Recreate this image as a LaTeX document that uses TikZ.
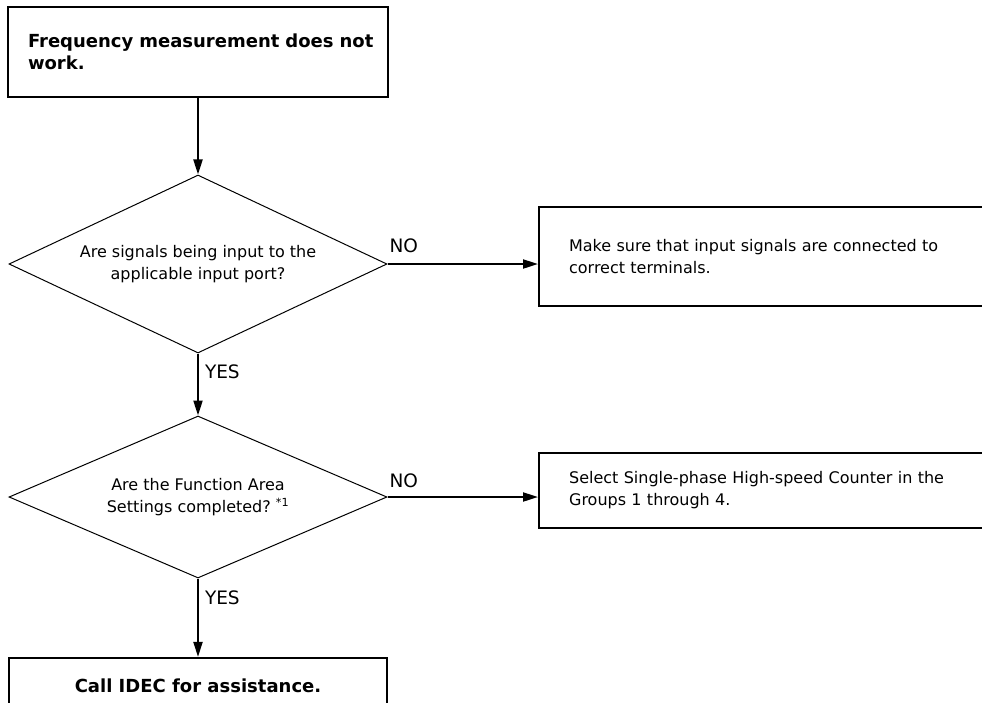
\documentclass[tikz,border=0pt]{standalone}
\usepackage{fontspec}
\setmainfont{DejaVu Sans}
\usetikzlibrary{positioning, arrows.meta, shapes.geometric}

\begin{document}
\begin{tikzpicture}[x=1pt, y=-1pt]
    \tikzstyle{boldblock} = [rectangle, draw, line width=2.2pt, inner sep=0pt, font=\fontsize{18}{22}\selectfont\bfseries]
    \tikzstyle{questionblock} = [diamond, draw, line width=1pt, aspect=2, inner sep=0pt, align=center, font=\fontsize{16}{22}\selectfont]
    \tikzstyle{answerblock} = [rectangle, draw, line width=2.2pt, text width=410pt, inner xsep=30pt, inner ysep=0pt, align=left, anchor=west, font=\fontsize{16}{22}\selectfont]
    \tikzstyle{answer} = [inner sep=0pt, font=\fontsize{18.5}{22}\selectfont]
    \tikzstyle{arrow} = [line width=2pt, -{Triangle[length=15pt, width=9pt]}]

    \useasboundingbox (0,0) rectangle (982,702);
    \clip (0,0) rectangle (982,702);

    \node [boldblock, minimum width=380pt, minimum height=90pt, text width=340pt, align=left] (start) at (198,52) {\mbox{Frequency measurement does not}\\work.};

    \node [questionblock, minimum width=378pt, minimum height=178pt] (signal) at (198,264) {Are signals being input to the\\applicable input port?};
    \node [answerblock, minimum height=99pt] (wiring) at (538,256.5) {Make sure that input signals are connected to\\correct terminals.};

    \node [questionblock, minimum width=378pt, minimum height=162pt] (settings) at (198,497) {Are the Function Area\\Settings completed?~\textsuperscript{*1}};
    \node [answerblock, minimum height=75pt] (counter) at (538,490.5) {Select Single-phase High-speed Counter in the\\Groups 1 through 4.};

    \node [boldblock, minimum width=378pt, minimum height=56pt] (assist) at (198,686) {Call IDEC for assistance.};

    \draw [arrow] (start) -- (signal);
    \draw [arrow] (signal.east) -- node [answer, pos=0, anchor=south west, xshift=1pt, yshift=10pt] {NO} (signal.east -| wiring.west);
    \draw [arrow] (signal) -- node [answer, pos=0.3, anchor=west, xshift=6pt] {YES} (settings);
    \draw [arrow] (settings.east) -- node [answer, pos=0, anchor=south west, xshift=1pt, yshift=8pt] {NO} (settings.east -| counter.west);
    \draw [arrow] (settings) -- node [answer, pos=0.25, anchor=west, xshift=6pt] {YES} (assist);
\end{tikzpicture}
\end{document}
